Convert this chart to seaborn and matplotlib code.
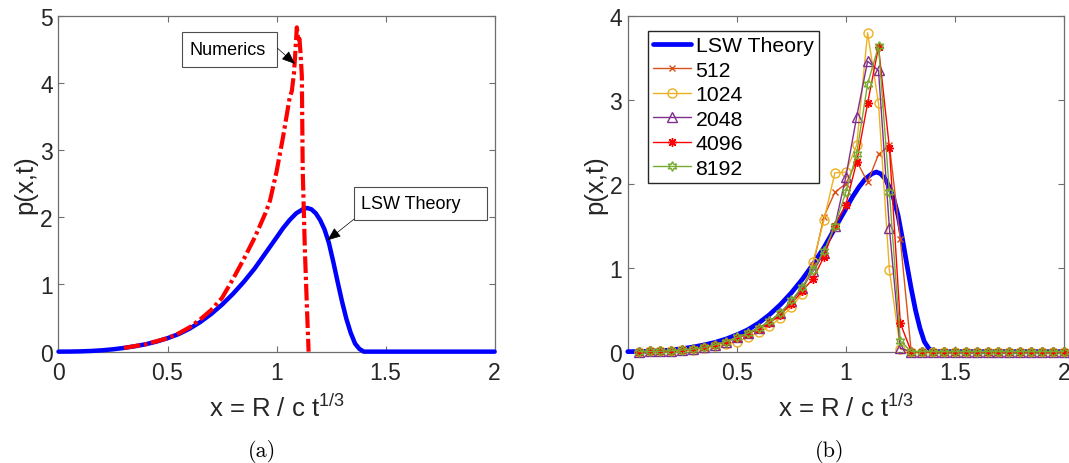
import numpy as np
import matplotlib
matplotlib.use("Agg")
import matplotlib.pyplot as plt
import seaborn as sns
from matplotlib.patches import Rectangle

# ---------------- data ----------------
# LSW theory distribution p(x)
lsw_x = [0.0, 0.05, 0.1, 0.15, 0.2, 0.25, 0.3, 0.35, 0.4, 0.45, 0.5, 0.55, 0.6,
         0.65, 0.7, 0.75, 0.8, 0.85, 0.9, 0.95, 1.0, 1.03, 1.06, 1.09, 1.12, 1.14,
         1.16, 1.18, 1.2, 1.22, 1.24, 1.26, 1.28, 1.3, 1.32, 1.34, 1.36, 1.38, 1.4,
         1.5, 2.0]
lsw_p = [0.0, 0.001, 0.004, 0.01, 0.02, 0.035, 0.055, 0.08, 0.11, 0.15, 0.20,
         0.26, 0.34, 0.44, 0.56, 0.70, 0.86, 1.04, 1.24, 1.47, 1.70, 1.84, 1.96,
         2.06, 2.12, 2.14, 2.12, 2.06, 1.96, 1.82, 1.62, 1.34, 1.04, 0.75, 0.49,
         0.28, 0.12, 0.04, 0.0, 0.0, 0.0]

# numerical size distribution (panel a)
num_x = [0.30, 0.40, 0.50, 0.55, 0.60, 0.65, 0.70, 0.75, 0.80, 0.85, 0.90, 0.95,
         0.97, 1.00, 1.03, 1.06, 1.07, 1.08, 1.085, 1.093, 1.10, 1.105, 1.11,
         1.116, 1.12, 1.13, 1.14, 1.147]
num_p = [0.055, 0.11, 0.20, 0.27, 0.36, 0.48, 0.62, 0.80, 1.08, 1.38, 1.70, 2.07,
         2.25, 2.68, 3.20, 3.78, 3.88, 4.15, 4.40, 4.83, 4.62, 4.66, 4.45, 4.10,
         2.70, 1.50, 0.60, 0.0]

# binned distributions for different system sizes (panel b)
bin_x = np.round(np.arange(1, 41) * 0.05, 2)
tail = [0.0] * 15
p512 = [0.0, 0.002, 0.005, 0.01, 0.02, 0.03, 0.05, 0.08, 0.12, 0.17, 0.22, 0.28,
        0.36, 0.46, 0.60, 0.75, 1.03, 1.61, 1.90, 2.00, 2.27, 2.02, 2.35, 2.46,
        1.34] + tail
p1024 = [0.0, 0.002, 0.004, 0.008, 0.015, 0.025, 0.04, 0.065, 0.09, 0.12, 0.17,
         0.23, 0.30, 0.40, 0.53, 0.69, 1.07, 1.57, 2.13, 2.14, 2.46, 3.80, 2.96,
         0.97, 0.03] + tail
p2048 = [0.0, 0.002, 0.005, 0.01, 0.02, 0.03, 0.05, 0.08, 0.12, 0.17, 0.22, 0.28,
         0.36, 0.46, 0.60, 0.76, 0.96, 1.17, 1.50, 2.08, 2.80, 3.46, 3.35, 1.47,
         0.04] + tail
p4096 = [0.0, 0.002, 0.005, 0.01, 0.02, 0.03, 0.05, 0.08, 0.12, 0.16, 0.21, 0.27,
         0.34, 0.44, 0.57, 0.72, 0.87, 1.13, 1.50, 1.75, 2.26, 2.96, 3.63, 2.43,
         0.34] + tail
p8192 = [0.0, 0.002, 0.005, 0.01, 0.02, 0.03, 0.05, 0.08, 0.12, 0.17, 0.22, 0.28,
         0.36, 0.46, 0.61, 0.77, 0.97, 1.20, 1.50, 1.90, 2.36, 3.19, 3.64, 1.90,
         0.13] + tail

series_labels = ["512", "1024", "2048", "4096", "8192"]
series_values = [p512, p1024, p2048, p4096, p8192]
series_colors = ["#D95319", "#EDB120", "#7E2F8E", "#FF0000", "#77AC30"]
series_markers = ["x", "o", "^", (8, 2, 0), (6, 1, 0)]
series_msize = [5, 6.5, 7.5, 6.5, 7]

x_ticks = [0, 0.5, 1, 1.5, 2]
x_tick_labels = ["0", "0.5", "1", "1.5", "2"]

# ---------------- style ----------------
sns.set_theme(style="ticks")
plt.rcParams["font.family"] = ["Liberation Sans", "DejaVu Sans"]
plt.rcParams["mathtext.fontset"] = "custom"
plt.rcParams["mathtext.rm"] = "Liberation Sans"
plt.rcParams["mathtext.it"] = "Liberation Sans:italic"

TXT = "#262626"
SPINE = "#6e6e6e"

fig = plt.figure(figsize=(10.69, 4.64), dpi=100)
ax_a = fig.add_axes([0.0547, 0.240, 0.408, 0.7235])
ax_b = fig.add_axes([0.5872, 0.240, 0.408, 0.7235])

xlabel = r"x = R / c t$^{\mathregular{1/3}}$"


def style_axes(ax, ymax):
    ax.set_xlim(0, 2)
    ax.set_ylim(0, ymax)
    ax.set_xticks(x_ticks)
    ax.set_xticklabels(x_tick_labels)
    ax.set_yticks(range(0, ymax + 1))
    ax.tick_params(direction="in", length=4, width=0.8, top=True, right=True,
                   colors=SPINE, labelcolor=TXT, labelsize=16.5)
    ax.tick_params(axis="x", pad=7)
    ax.tick_params(axis="y", pad=4)
    for s in ax.spines.values():
        s.set_visible(True)
        s.set_color(SPINE)
        s.set_linewidth(0.9)
    ax.set_xlabel(xlabel, fontsize=18.5, color=TXT)
    ax.set_ylabel("p(x,t)", fontsize=18.5, color=TXT)
    ax.xaxis.label.set_verticalalignment("baseline")
    ax.xaxis.set_label_coords(0.5, -0.193)
    ax.yaxis.label.set_verticalalignment("center")
    ax.yaxis.set_label_coords(-0.075, 0.5)


# ---------------- panel (a) ----------------
sns.lineplot(x=lsw_x, y=lsw_p, ax=ax_a, color="#0000FF", lw=3.2,
             estimator=None, sort=False, clip_on=False, zorder=3)
sns.lineplot(x=num_x, y=num_p, ax=ax_a, color="#FF0000", lw=3.0,
             estimator=None, sort=False, zorder=4,
             linestyle=(0, (4.0, 0.9, 0.8, 0.9)))
style_axes(ax_a, 5)

# text boxes with arrows
ax_a.add_patch(Rectangle((0.2837, 0.849), 0.217, 0.104, transform=ax_a.transAxes,
                         facecolor="white", edgecolor="#4d4d4d", lw=0.8, zorder=6))
ax_a.text(0.2993, 0.901, "Numerics", transform=ax_a.transAxes, fontsize=13,
          ha="left", va="center", color="black", zorder=7)
ax_a.annotate("", xy=(0.5424, 0.857), xytext=(0.502, 0.904),
              xycoords="axes fraction", textcoords="axes fraction", zorder=8,
              arrowprops=dict(arrowstyle="-|>,head_length=0.7,head_width=0.28",
                              color="black", lw=0.5, shrinkA=0, shrinkB=0))

ax_a.add_patch(Rectangle((0.678, 0.393), 0.305, 0.097, transform=ax_a.transAxes,
                         facecolor="white", edgecolor="#4d4d4d", lw=0.8, zorder=6))
ax_a.text(0.6927, 0.442, "LSW Theory", transform=ax_a.transAxes, fontsize=13,
          ha="left", va="center", color="black", zorder=7)
ax_a.annotate("", xy=(0.6165, 0.3315), xytext=(0.678, 0.395),
              xycoords="axes fraction", textcoords="axes fraction", zorder=8,
              arrowprops=dict(arrowstyle="-|>,head_length=0.7,head_width=0.28",
                              color="black", lw=0.5, shrinkA=0, shrinkB=0))

# ---------------- panel (b) ----------------
sns.lineplot(x=lsw_x, y=lsw_p, ax=ax_b, color="#0000FF", lw=3.4,
             estimator=None, sort=False, clip_on=False, label="LSW Theory", zorder=3)
for lab, vals, col, mk, ms in zip(series_labels, series_values, series_colors,
                                  series_markers, series_msize):
    sns.lineplot(x=bin_x, y=vals, ax=ax_b, color=col, lw=1.0, marker=mk,
                 markersize=ms, markerfacecolor="none", markeredgecolor=col,
                 markeredgewidth=1.0, estimator=None, sort=False, clip_on=False,
                 label=lab, zorder=4)
style_axes(ax_b, 4)

leg = ax_b.legend(loc="upper left", bbox_to_anchor=(0.0459, 0.956),
                  borderaxespad=0, fontsize=15.3, frameon=True, fancybox=False,
                  framealpha=1, edgecolor="#262626", handlelength=1.8,
                  handletextpad=0.2, labelspacing=0.26, borderpad=0.25)
leg.get_frame().set_linewidth(1.0)
for t in leg.get_texts():
    t.set_color("black")

# ---------------- captions ----------------
fig.text(262 / 1069, 1 - 452 / 464, "(a)", family="cmr10", fontsize=16,
         ha="center", va="center", color="black")
fig.text(830 / 1069, 1 - 452 / 464, "(b)", family="cmr10", fontsize=16,
         ha="center", va="center", color="black")

fig.savefig("out.png", dpi=100, facecolor="white")
